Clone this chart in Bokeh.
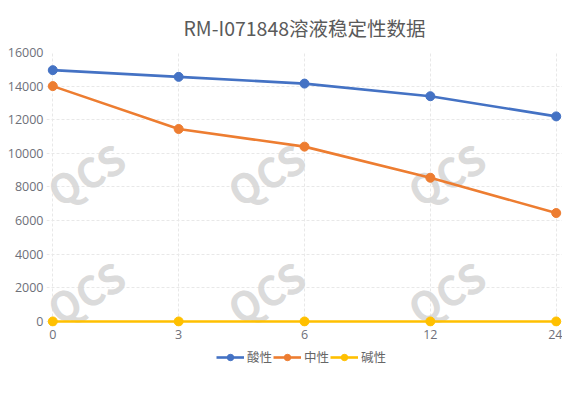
from bokeh.plotting import figure
from bokeh.layouts import column
from bokeh.models import Range1d, FixedTicker, Legend, LegendItem, Label
from bokeh.embed import file_html
from bokeh.resources import INLINE

categories = ["0", "3", "6", "12", "24"]
acid = [14950, 14550, 14150, 13400, 12200]
neutral = [14000, 11450, 10400, 8550, 6450]
alkaline = [0, 0, 0, 0, 0]
series_names = ["酸性", "中性", "碱性"]
colors = ["#4472C4", "#ED7D31", "#FFC000"]
y_ticks = [0, 2000, 4000, 6000, 8000, 10000, 12000, 14000, 16000]

FONT = "Noto Sans CJK SC"
NUMFONT = "Open Sans"
xs = list(range(len(categories)))
all_series = [acid, neutral, alkaline]

p = figure(frame_width=516, frame_height=274, output_backend="svg", toolbar_location=None,
           x_range=Range1d(-0.05, len(categories) - 1 + 0.05),
           y_range=Range1d(-300, 16000),
           min_border_left=46, min_border_right=0, min_border_top=49,
           min_border_bottom=18)
p.outline_line_color = None
p.background_fill_color = "white"

p.title.text = "RM-I071848溶液稳定性数据"
p.title.align = "center"
p.title.text_font = FONT
p.title.text_font_size = "19.5px"
p.title.text_font_style = "normal"
p.title.text_color = "#5a5a5a"
p.title.standoff = 21

# watermarks (screen positions converted through plot scales)
def px_to_x(px):
    return (px - 57) / 125.75
def px_to_y(py):
    return (318 - py) * 16000 / 269.0
for wy in [170, 288]:
    for wx in [90, 270, 450]:
        p.add_layout(Label(x=px_to_x(wx), y=px_to_y(wy), text="QCS",
                           text_font=FONT, text_font_size="40px",
                           text_font_style="bold", text_color="#d6d6d6",
                           text_alpha=0.9,
                           text_align="center", text_baseline="middle",
                           angle=30, angle_units="deg", level="underlay"))

for name, vals, c in zip(series_names, all_series, colors):
    p.line(xs, vals, line_color=c, line_width=2.6)
    p.scatter(xs, vals, size=9, fill_color=c, line_color=c)

p.xaxis.ticker = FixedTicker(ticks=xs)
p.xaxis.major_label_overrides = {i: c for i, c in enumerate(categories)}
p.yaxis.ticker = FixedTicker(ticks=y_ticks)
for ax in (p.xaxis, p.yaxis):
    ax.axis_line_color = None
    ax.major_tick_line_color = None
    ax.minor_tick_line_color = None
    ax.major_label_text_font = NUMFONT
    ax.major_label_text_font_size = "12.5px"
    ax.major_label_text_color = "#6e7079"
p.xaxis.major_label_standoff = -3
p.yaxis.major_label_standoff = -3

p.xgrid.ticker = FixedTicker(ticks=xs)
p.ygrid.ticker = FixedTicker(ticks=y_ticks)
for g in (p.xgrid, p.ygrid):
    g.grid_line_color = "#e8e8e8"
    g.grid_line_dash = "3 2"
    g.grid_line_width = 1

# legend strip below the chart (series drawn out of view, only legend shows)
lf = figure(width=560, height=24, output_backend="svg", toolbar_location=None,
            x_range=Range1d(100, 101), y_range=Range1d(-1e6, -9e5),
            min_border=0)
lf.axis.visible = False
lf.grid.visible = False
lf.outline_line_color = None
items = []
for name, vals, c in zip(series_names, all_series, colors):
    r1 = lf.line(xs, vals, line_color=c, line_width=2.6)
    r2 = lf.scatter(xs, vals, size=9, fill_color=c, line_color=c)
    items.append(LegendItem(label=name, renderers=[r1, r2]))
legend = Legend(items=items, orientation="horizontal", location=(170, 2),
                label_text_font=FONT, label_text_font_size="12.5px",
                label_text_color="#666666", glyph_width=28, glyph_height=16,
                label_height=16, label_standoff=3, spacing=1,
                padding=0, margin=0,
                border_line_alpha=0, background_fill_alpha=0)
lf.add_layout(legend, "center")

layout = column(p, lf, spacing=0)
open("out.html", "w").write(file_html(layout, INLINE))
